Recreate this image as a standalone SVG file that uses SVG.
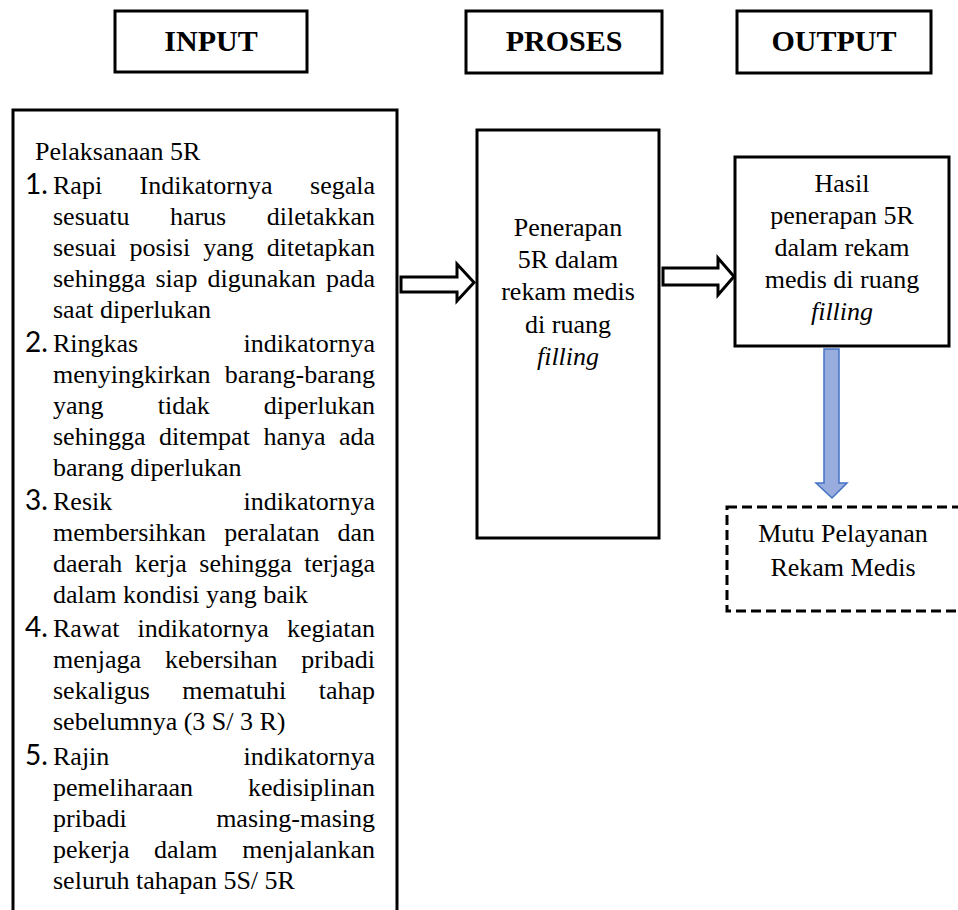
<svg xmlns="http://www.w3.org/2000/svg" width="958" height="910" viewBox="0 0 958 910">
<style>
.box{fill:#fff;stroke:#000;stroke-width:3}
.hd{font-family:"Liberation Serif","Times New Roman",serif;font-weight:bold;font-size:30px;text-anchor:middle;fill:#000}
.t{font-family:"Liberation Serif","Times New Roman",serif;font-size:26px;fill:#000}
.c{text-anchor:middle}
.r{text-anchor:end}
.n{font-family:Lato,"Liberation Sans",sans-serif;font-size:28px;fill:#000}
.it{font-style:italic}
.dash{fill:#fff;stroke:#000;stroke-width:3;stroke-dasharray:10 5}
.barrow{fill:#fff;stroke:#000;stroke-width:3;stroke-linejoin:miter}
.blue{fill:#98ACDD;stroke:#4472C4;stroke-width:1.5}
</style>
<rect width="958" height="910" fill="#fff"/>

<g id="hdr-input"><rect class="box" x="115" y="11" width="192" height="61"/><text class="hd" x="211" y="51">INPUT</text></g>
<g id="hdr-proses"><rect class="box" x="466" y="11" width="196" height="62"/><text class="hd" x="564" y="51">PROSES</text></g>
<g id="hdr-output"><rect class="box" x="737" y="11" width="194" height="62"/><text class="hd" x="834" y="51">OUTPUT</text></g>

<g id="input">
<path class="box" d="M13,915 V110 H397 V915" fill="none"/>
<g transform="translate(0,3)">
<text class="t" x="35" y="157">Pelaksanaan 5R</text>
<text class="n" x="25" y="191">1.</text>
<text class="t" x="53" y="191">Rapi</text><text class="t" x="139.6" y="191">Indikatornya</text><text class="t r" x="375" y="191">segala</text>
<text class="t" x="53" y="222">sesuatu</text><text class="t" x="169.9" y="222">harus</text><text class="t r" x="375" y="222">diletakkan</text>
<text class="t" x="53" y="253">sesuai</text><text class="t" x="129.5" y="253">posisi</text><text class="t" x="203.2" y="253">yang</text><text class="t r" x="375" y="253">ditetapkan</text>
<text class="t" x="53" y="284">sehingga</text><text class="t" x="155.5" y="284">siap</text><text class="t" x="207.5" y="284">digunakan</text><text class="t r" x="375" y="284">pada</text>
<text class="t" x="53" y="315">saat diperlukan</text>
<text class="n" x="25" y="349">2.</text>
<text class="t" x="53" y="349">Ringkas</text><text class="t r" x="375" y="349">indikatornya</text>
<text class="t" x="53" y="380">menyingkirkan</text><text class="t r" x="375" y="380">barang-barang</text>
<text class="t" x="53" y="411">yang</text><text class="t" x="157.7" y="411">tidak</text><text class="t r" x="375" y="411">diperlukan</text>
<text class="t" x="53" y="442">sehingga</text><text class="t" x="158.9" y="442">ditempat</text><text class="t" x="263.4" y="442">hanya</text><text class="t r" x="375" y="442">ada</text>
<text class="t" x="53" y="473">barang diperlukan</text>
<text class="n" x="25" y="507">3.</text>
<text class="t" x="53" y="507">Resik</text><text class="t r" x="375" y="507">indikatornya</text>
<text class="t" x="53" y="538">membersihkan</text><text class="t" x="224.2" y="538">peralatan</text><text class="t r" x="375" y="538">dan</text>
<text class="t" x="53" y="569">daerah</text><text class="t" x="134.8" y="569">kerja</text><text class="t" x="199.3" y="569">sehingga</text><text class="t r" x="375" y="569">terjaga</text>
<text class="t" x="53" y="600">dalam kondisi yang baik</text>
<text class="n" x="25" y="634">4.</text>
<text class="t" x="53" y="634">Rawat</text><text class="t" x="137.5" y="634">indikatornya</text><text class="t r" x="375" y="634">kegiatan</text>
<text class="t" x="53" y="665">menjaga</text><text class="t" x="164.9" y="665">kebersihan</text><text class="t r" x="375" y="665">pribadi</text>
<text class="t" x="53" y="696">sekaligus</text><text class="t" x="182.2" y="696">mematuhi</text><text class="t r" x="375" y="696">tahap</text>
<text class="t" x="53" y="727">sebelumnya (3 S/ 3 R)</text>
<text class="n" x="25" y="762">5.</text>
<text class="t" x="53" y="762">Rajin</text><text class="t r" x="375" y="762">indikatornya</text>
<text class="t" x="53" y="793">pemeliharaan</text><text class="t r" x="375" y="793">kedisiplinan</text>
<text class="t" x="53" y="824">pribadi</text><text class="t r" x="375" y="824">masing-masing</text>
<text class="t" x="53" y="855">pekerja</text><text class="t" x="154" y="855">dalam</text><text class="t r" x="375" y="855">menjalankan</text>
<text class="t" x="53" y="886">seluruh tahapan 5S/ 5R</text>
</g>
</g>

<g id="proses">
<rect class="box" x="477" y="130" width="182" height="408"/>
<text class="t c" x="568" y="236">Penerapan</text>
<text class="t c" x="568" y="268">5R dalam</text>
<text class="t c" x="568" y="300">rekam medis</text>
<text class="t c" x="568" y="333">di ruang</text>
<text class="t c it" x="568" y="365">filling</text>
</g>

<g id="output">
<rect class="box" x="735" y="157" width="214" height="189"/>
<text class="t c" x="842" y="192">Hasil</text>
<text class="t c" x="842" y="224">penerapan 5R</text>
<text class="t c" x="842" y="256">dalam rekam</text>
<text class="t c" x="842" y="288">medis di ruang</text>
<text class="t c it" x="842" y="320">filling</text>
</g>

<g id="mutu">
<rect class="dash" x="727" y="507" width="250" height="104"/>
<text class="t c" x="843" y="542">Mutu Pelayanan</text>
<text class="t c" x="843" y="576">Rekam Medis</text>
</g>

<g id="connectors">
<path class="barrow" d="M401,277 H457 V264 L474,282.5 L457,301 V292 H401 Z"/>
<path class="barrow" d="M663,268 H718 V258 L734,276.5 L718,295 V285 H663 Z"/>
<path class="blue" d="M824,349 H839 V483 H847 L832,498 L816,483 H824 Z"/>
</g>
</svg>
